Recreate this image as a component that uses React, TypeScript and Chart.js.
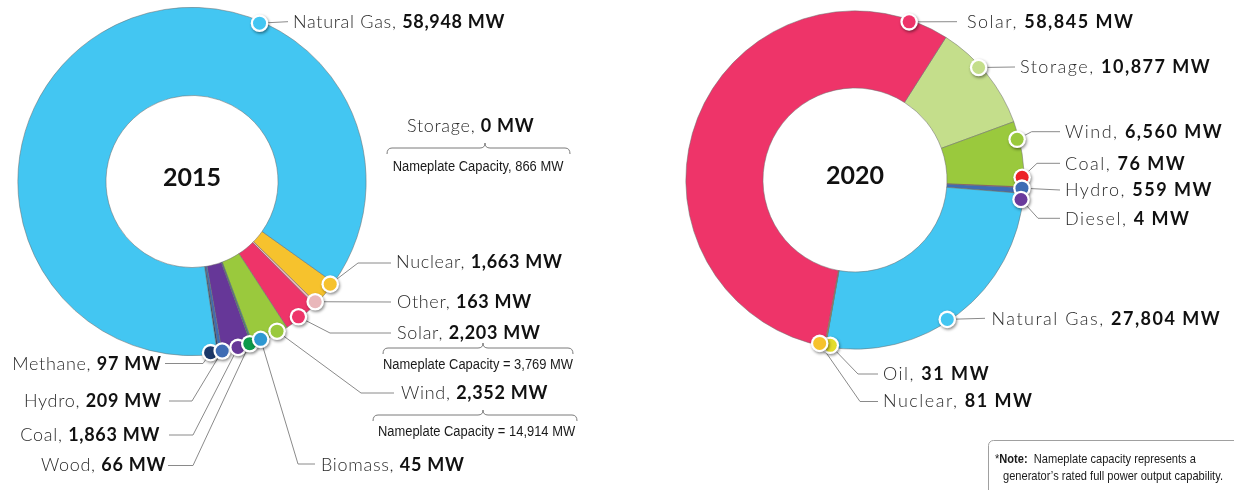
import React, { useEffect, useRef } from 'react';
import { Chart, registerables } from 'chart.js';

Chart.register(...registerables);

const W = 1234;
const H = 490;

// ---------- 2015 data ----------
const FUELS_2015 = ['Nuclear', 'Other', 'Solar', 'Wind', 'Biomass', 'Wood', 'Coal', 'Hydro', 'Methane', 'Natural Gas', 'Storage'];
const MW_2015 = [1663, 163, 2203, 2352, 45, 66, 1863, 209, 97, 58948, 0];
const COLORS_2015 = ['#F6C22D', '#E9B7BA', '#EE3469', '#9AC93D', '#2E98D1', '#0C9A4A', '#663798', '#3E6CB4', '#1C3869', '#43C6F2', '#C4DE8B'];
const NAMEPLATE_FUELS_2015 = ['Storage', 'Solar', 'Wind'];
const NAMEPLATE_MW_2015 = [866, 3769, 14914];
const NAMEPLATE_SEP_2015 = [', ', ' = ', ' = '];

// ---------- 2020 data ----------
const FUELS_2020 = ['Storage', 'Wind', 'Coal', 'Hydro', 'Diesel', 'Natural Gas', 'Oil', 'Nuclear', 'Solar'];
const MW_2020 = [10877, 6560, 76, 559, 4, 27804, 31, 81, 58845];
const COLORS_2020 = ['#C4DE8B', '#9AC93D', '#EC2227', '#3E6CB4', '#6A3A9B', '#43C6F2', '#E3DC2B', '#F6C22D', '#EE3469'];

const NOTE_LINES = ['Nameplate capacity represents a', 'generator\u2019s rated full power output capability.'];

// ---------- layout (callout placement) ----------
type Callout = {
  fuel: string;
  dot?: number; // anchor angle on the ring, degrees clockwise from top
  pts: [number, number][];
  tx: number;
  ty: number;
  align: 'left' | 'right';
};

const CALLOUTS_2015: Callout[] = [
  { fuel: 'Natural Gas', dot: 23.1, pts: [[288, 21.7]], tx: 293, ty: 21.5, align: 'left' },
  { fuel: 'Storage', pts: [], tx: 407, ty: 126, align: 'left' },
  { fuel: 'Nuclear', dot: 126.6, pts: [[358, 263], [391, 263]], tx: 396, ty: 262, align: 'left' },
  { fuel: 'Other', dot: 134.3, pts: [[391, 302]], tx: 397, ty: 301.5, align: 'left' },
  { fuel: 'Solar', dot: 141.8, pts: [[330, 333], [391, 333]], tx: 397, ty: 333, align: 'left' },
  { fuel: 'Wind', dot: 150.4, pts: [[361, 393], [394, 393]], tx: 401, ty: 393, align: 'left' },
  { fuel: 'Methane', dot: 173.8, pts: [[203, 363.5], [165, 363.5]], tx: 161.5, ty: 364, align: 'right' },
  { fuel: 'Hydro', dot: 169.9, pts: [[192, 401], [169, 401]], tx: 161.5, ty: 401, align: 'right' },
  { fuel: 'Coal', dot: 164.5, pts: [[193, 435], [169, 435]], tx: 160, ty: 435, align: 'right' },
  { fuel: 'Wood', dot: 160.4, pts: [[193, 465.5], [168, 465.5]], tx: 166, ty: 465, align: 'right' },
  { fuel: 'Biomass', dot: 156.5, pts: [[298, 464], [315, 464]], tx: 321, ty: 464.5, align: 'left' },
];

const BRACES_2015 = [
  { x1: 387, x2: 570, xm: 485, y: 148, tx: 478, ty: 167 },
  { x1: 383, x2: 573, xm: 483, y: 348, tx: 478, ty: 365 },
  { x1: 373, x2: 577, xm: 483, y: 415, tx: 476.5, ty: 432 },
];

const CALLOUTS_2020: Callout[] = [
  { fuel: 'Solar', dot: 18.9, pts: [[957, 21.7]], tx: 967, ty: 21.5, align: 'left' },
  { fuel: 'Storage', dot: 47.7, pts: [[1015, 67]], tx: 1020, ty: 66.7, align: 'left' },
  { fuel: 'Wind', dot: 75.9, pts: [[1031.7, 131.7], [1060, 131.7]], tx: 1065, ty: 131.7, align: 'left' },
  { fuel: 'Coal', dot: 89.1, pts: [[1037, 163.3], [1060, 163.3]], tx: 1065, ty: 163.3, align: 'left' },
  { fuel: 'Hydro', dot: 92.8, pts: [[1060, 190]], tx: 1065, ty: 190, align: 'left' },
  { fuel: 'Diesel', dot: 96.7, pts: [[1038, 218.3], [1060, 218.3]], tx: 1065, ty: 218.3, align: 'left' },
  { fuel: 'Natural Gas', dot: 146.5, pts: [[985, 318.3]], tx: 991.5, ty: 318.3, align: 'left' },
  { fuel: 'Oil', dot: 188.5, pts: [[858, 374], [878, 374]], tx: 883, ty: 373.5, align: 'left' },
  { fuel: 'Nuclear', dot: 192.2, pts: [[860, 401.5], [878, 401.5]], tx: 883, ty: 401, align: 'left' },
];

// ---------- fonts ----------
const LABEL_PX = 18;
const NAME_FONT = `300 ${LABEL_PX}px Lato, "DejaVu Sans", sans-serif`;
const VALUE_FONT = `700 ${LABEL_PX}px Lato, "DejaVu Sans", sans-serif`;
const CAP = LABEL_PX * 0.717;
const NARROW = '"Liberation Sans Narrow", "Liberation Sans", Arial, sans-serif';
const LINE_COLOR = '#8a8a8a';

const fmt = (v: number) => v.toLocaleString('en-US') + ' MW';

function drawLabel(
  ctx: CanvasRenderingContext2D,
  name: string,
  value: string,
  x: number,
  y: number,
  align: 'left' | 'right',
  spacing: number
) {
  const nameStr = name + ', ';
  (ctx as any).letterSpacing = `${spacing}px`;
  ctx.font = NAME_FONT;
  const w1 = ctx.measureText(nameStr).width;
  ctx.font = VALUE_FONT;
  const w2 = ctx.measureText(value).width;
  const x0 = align === 'right' ? x - w1 - w2 : x;
  const base = y + CAP / 2;
  ctx.textAlign = 'left';
  ctx.textBaseline = 'alphabetic';
  ctx.font = NAME_FONT;
  ctx.fillStyle = '#2a2a2a';
  ctx.fillText(nameStr, x0, base);
  ctx.font = VALUE_FONT;
  ctx.fillStyle = '#111111';
  ctx.fillText(value, x0 + w1, base);
  (ctx as any).letterSpacing = '0px';
}

// condensed text: draw with horizontal compression
function narrowText(ctx: CanvasRenderingContext2D, text: string, x: number, y: number, sx: number, align: CanvasTextAlign) {
  ctx.save();
  ctx.translate(x, y);
  ctx.scale(sx, 1);
  ctx.textAlign = align;
  ctx.textBaseline = 'middle';
  ctx.fillText(text, 0, 0);
  ctx.restore();
}

function drawBrace(ctx: CanvasRenderingContext2D, x1: number, x2: number, xm: number, y: number) {
  const r = 5;
  ctx.beginPath();
  ctx.moveTo(x1, y + 6);
  ctx.quadraticCurveTo(x1, y, x1 + r, y);
  ctx.lineTo(xm - r, y);
  ctx.quadraticCurveTo(xm, y, xm, y - r);
  ctx.quadraticCurveTo(xm, y, xm + r, y);
  ctx.lineTo(x2 - r, y);
  ctx.quadraticCurveTo(x2, y, x2, y + 6);
  ctx.strokeStyle = '#7a7a7a';
  ctx.lineWidth = 1;
  ctx.stroke();
}

function makePlugin(opts: {
  id: string;
  year: string;
  fuels: string[];
  values: number[];
  colors: string[];
  callouts: Callout[];
  spacing: number;
  extra?: (ctx: CanvasRenderingContext2D) => void;
}) {
  return {
    id: opts.id,
    afterDraw(chart: any) {
      const ctx: CanvasRenderingContext2D = chart.ctx;
      const meta = chart.getDatasetMeta(0);
      const arc: any = meta.data[0];
      const cx = arc.x;
      const cy = arc.y;
      const R = arc.outerRadius - 2;
      ctx.save();

      // centre year
      ctx.font = `700 25px Lato, "DejaVu Sans", sans-serif`;
      ctx.fillStyle = '#111111';
      ctx.textAlign = 'center';
      ctx.textBaseline = 'alphabetic';
      ctx.fillText(opts.year, cx, cy + 4);

      const dotPos = (deg: number): [number, number] => {
        const a = ((deg - 90) * Math.PI) / 180;
        return [cx + R * Math.cos(a), cy + R * Math.sin(a)];
      };

      // leader lines
      ctx.strokeStyle = LINE_COLOR;
      ctx.lineWidth = 1;
      for (const c of opts.callouts) {
        if (c.dot === undefined) continue;
        const [dx, dy] = dotPos(c.dot);
        ctx.beginPath();
        ctx.moveTo(dx, dy);
        for (const p of c.pts) ctx.lineTo(p[0], p[1]);
        ctx.stroke();
      }

      // dots
      for (const c of opts.callouts) {
        if (c.dot === undefined) continue;
        const idx = opts.fuels.indexOf(c.fuel);
        const [dx, dy] = dotPos(c.dot);
        ctx.save();
        ctx.shadowColor = 'rgba(0,0,0,0.45)';
        ctx.shadowBlur = 3;
        ctx.shadowOffsetX = 1;
        ctx.shadowOffsetY = 1.5;
        ctx.beginPath();
        ctx.arc(dx, dy, 8.8, 0, Math.PI * 2);
        ctx.fillStyle = '#ffffff';
        ctx.fill();
        ctx.restore();
        ctx.beginPath();
        ctx.arc(dx, dy, 6.5, 0, Math.PI * 2);
        ctx.fillStyle = opts.colors[idx];
        ctx.fill();
      }

      // labels
      for (const c of opts.callouts) {
        const idx = opts.fuels.indexOf(c.fuel);
        drawLabel(ctx, c.fuel, fmt(opts.values[idx]), c.tx, c.ty, c.align, opts.spacing);
      }

      if (opts.extra) opts.extra(ctx);
      ctx.restore();
    },
  };
}

function braces2015(ctx: CanvasRenderingContext2D) {
  ctx.font = `14px ${NARROW}`;
  const sx = 190 / ctx.measureText('Nameplate Capacity = 3,769 MW').width;
  NAMEPLATE_FUELS_2015.forEach((_f, i) => {
    const b = BRACES_2015[i];
    drawBrace(ctx, b.x1, b.x2, b.xm, b.y);
    ctx.font = `14px ${NARROW}`;
    ctx.fillStyle = '#1a1a1a';
    narrowText(
      ctx,
      `Nameplate Capacity${NAMEPLATE_SEP_2015[i]}${NAMEPLATE_MW_2015[i].toLocaleString('en-US')} MW`,
      b.tx,
      b.ty,
      sx,
      'center'
    );
  });
}

function note2020(ctx: CanvasRenderingContext2D) {
  ctx.beginPath();
  (ctx as any).roundRect(988.5, 440.5, 270, 70, 5);
  ctx.strokeStyle = '#a0a0a0';
  ctx.lineWidth = 1;
  ctx.stroke();
  ctx.fillStyle = '#1a1a1a';
  const size = 13.5;
  ctx.font = `${size}px ${NARROW}`;
  const sx = 220 / ctx.measureText(NOTE_LINES[1]).width;
  let x = 995;
  narrowText(ctx, '*', x, 459, sx, 'left');
  x += ctx.measureText('*').width * sx;
  ctx.font = `bold ${size}px ${NARROW}`;
  narrowText(ctx, 'Note:', x, 459, sx, 'left');
  x += ctx.measureText('Note:').width * sx;
  ctx.font = `${size}px ${NARROW}`;
  narrowText(ctx, '  ' + NOTE_LINES[0], x, 459, sx, 'left');
  narrowText(ctx, NOTE_LINES[1], 1003, 476.5, sx, 'left');
}

function useDoughnut(
  ref: React.RefObject<HTMLCanvasElement>,
  cfg: {
    fuels: string[];
    values: number[];
    colors: string[];
    rotation: number;
    cutout: string;
    area: { left: number; top: number; size: number };
    plugin: any;
  }
) {
  useEffect(() => {
    if (!ref.current) return;
    const { left, top, size } = cfg.area;
    const chart = new Chart(ref.current, {
      type: 'doughnut',
      data: {
        labels: cfg.fuels,
        datasets: [
          {
            data: cfg.values,
            backgroundColor: cfg.colors,
            borderColor: 'rgba(110,110,110,0.75)',
            borderWidth: 0.7,
          },
        ],
      },
      options: {
        responsive: false,
        animation: false,
        events: [],
        rotation: cfg.rotation,
        cutout: cfg.cutout,
        layout: { padding: { left, top, right: W - left - size, bottom: H - top - size } },
        plugins: { legend: { display: false }, tooltip: { enabled: false } },
      },
      plugins: [cfg.plugin],
    } as any);
    return () => chart.destroy();
  }, []);
}

export default function App() {
  const ref15 = useRef<HTMLCanvasElement>(null);
  const ref20 = useRef<HTMLCanvasElement>(null);

  useDoughnut(ref15, {
    fuels: FUELS_2015,
    values: MW_2015,
    colors: COLORS_2015,
    rotation: 125.5,
    cutout: '49.4%',
    area: { left: 17.5, top: 7, size: 349 },
    plugin: makePlugin({
      id: 'c2015',
      year: '2015',
      fuels: FUELS_2015,
      values: MW_2015,
      colors: COLORS_2015,
      callouts: CALLOUTS_2015,
      spacing: 0.7,
      extra: braces2015,
    }),
  });

  useDoughnut(ref20, {
    fuels: FUELS_2020,
    values: MW_2020,
    colors: COLORS_2020,
    rotation: 32.5,
    cutout: '54.4%',
    area: { left: 685.5, top: 10.5, size: 339 },
    plugin: makePlugin({
      id: 'c2020',
      year: '2020',
      fuels: FUELS_2020,
      values: MW_2020,
      colors: COLORS_2020,
      callouts: CALLOUTS_2020,
      spacing: 1.5,
      extra: note2020,
    }),
  });

  const style: React.CSSProperties = { position: 'absolute', left: 0, top: 0, width: W, height: H };
  return (
    <div style={{ position: 'absolute', left: 0, top: 0, width: W, height: H, background: '#ffffff', overflow: 'hidden' }}>
      <canvas ref={ref15} width={W} height={H} style={style} />
      <canvas ref={ref20} width={W} height={H} style={style} />
    </div>
  );
}
